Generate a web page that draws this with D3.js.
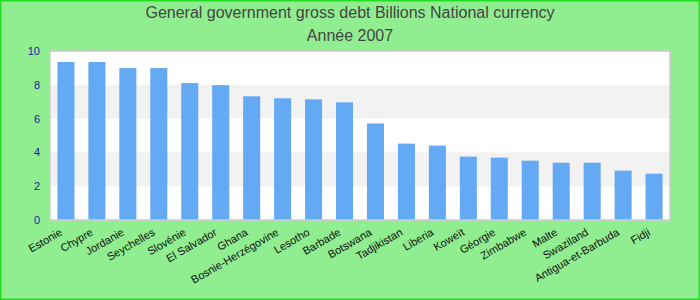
<!DOCTYPE html>
<html>
<head>
<meta charset="utf-8">
<script src="https://cdn.jsdelivr.net/npm/d3@7"></script>
<style>
html,body{margin:0;padding:0;background:#90ee90;}
svg{display:block;font-family:"Liberation Sans",Arial,sans-serif;}
</style>
</head>
<body>
<svg id="chart" width="700" height="300"></svg>
<script>
const categories = ["Estonie","Chypre","Jordanie","Seychelles","Slovénie","El Salvador","Ghana","Bosnie-Herzégovine","Lesotho","Barbade","Botswana","Tadjikistan","Liberia","Koweït","Géorgie","Zimbabwe","Malte","Swaziland","Antigua-et-Barbuda","Fidji"];
const values = [9.35,9.35,8.99,8.99,8.10,7.98,7.32,7.20,7.14,6.96,5.71,4.52,4.40,3.75,3.69,3.51,3.39,3.39,2.92,2.74];
const yTicks = [0,2,4,6,8,10];
const titleLines = ["General government gross debt Billions National currency","Année 2007"];

const svg = d3.select("#chart");
const W = 700, H = 300;
const m = {left:50, right:30, top:51, bottom:80};
const pw = W - m.left - m.right, ph = H - m.top - m.bottom;

svg.append("rect").attr("x",0.75).attr("y",0.75).attr("width",W-1.5).attr("height",H-1.5)
  .attr("fill","#90ee90").attr("stroke","#22dd22").attr("stroke-width",1.5);

const x = d3.scaleBand().domain(categories).range([m.left, m.left+pw]).paddingInner(0.45).paddingOuter(0.24);
const y = d3.scaleLinear().domain([0,10]).range([m.top+ph, m.top]);

// plot background
svg.append("rect").attr("x",m.left).attr("y",m.top).attr("width",pw).attr("height",ph).attr("fill","#ffffff");
// alternating bands
[[2,4],[6,8]].forEach(b=>{
  svg.append("rect").attr("x",m.left).attr("y",y(b[1])).attr("width",pw).attr("height",y(b[0])-y(b[1])).attr("fill","#f2f2f2");
});

// bars
svg.append("g").selectAll("rect").data(values).join("rect")
  .attr("x",(d,i)=>x(categories[i]))
  .attr("y",d=>y(d))
  .attr("width",x.bandwidth())
  .attr("height",d=>y(0)-y(d))
  .attr("fill","#63a9f4");

// plot border
svg.append("rect").attr("x",m.left).attr("y",m.top).attr("width",pw).attr("height",ph)
  .attr("fill","none").attr("stroke","#cccccc").attr("stroke-width",1.5);

// y axis
const yAxis = svg.append("g").attr("transform",`translate(${m.left},0)`)
  .call(d3.axisLeft(y).tickValues(yTicks).tickSize(0).tickPadding(10).tickFormat(d3.format("d")));
yAxis.select(".domain").remove();
yAxis.selectAll("text").attr("fill","#1a1a9a").style("font-size","11px").style("font-family","'Liberation Sans',Arial,sans-serif");

// x axis labels
const xAxis = svg.append("g").attr("transform",`translate(0,${m.top+ph})`)
  .call(d3.axisBottom(x).tickSize(0).tickPadding(0));
xAxis.select(".domain").remove();
xAxis.selectAll("text")
  .attr("fill","#111")
  .style("font-size","11px")
  .style("font-family","'Liberation Sans',Arial,sans-serif")
  .attr("text-anchor","end")
  .attr("y",0).attr("dy",0)
  .attr("transform","translate(-3,14.5) rotate(-30)");

// title
svg.append("g").selectAll("text").data(titleLines).join("text")
  .attr("x",W/2).attr("y",(d,i)=>18+i*23)
  .attr("text-anchor","middle")
  .attr("fill","#444444")
  .style("font-size","16px")
  .text(d=>d);
</script>
</body>
</html>
